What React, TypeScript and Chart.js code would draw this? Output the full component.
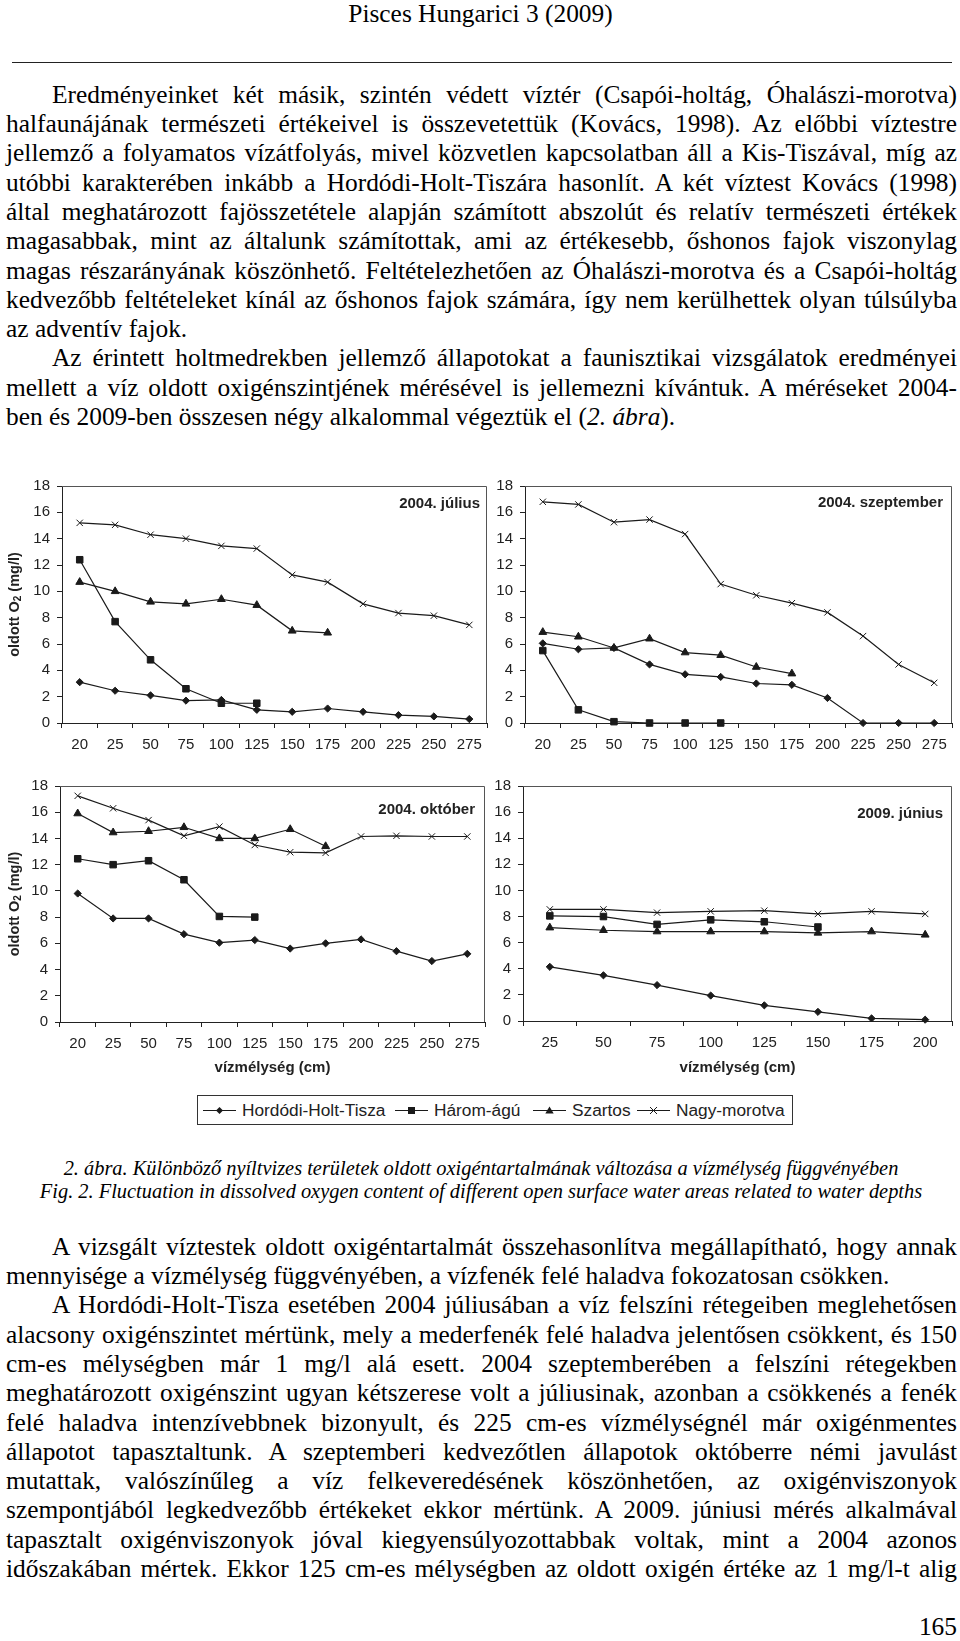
import React, { useEffect, useRef } from 'react';
import { Chart, registerables } from 'chart.js';

Chart.register(...registerables);
Chart.defaults.font.family = '"Liberation Sans", Arial, sans-serif';

// ---------------- DATA ----------------
const SERIES_NAMES = ['Hordódi-Holt-Tisza', 'Három-ágú', 'Szartos', 'Nagy-morotva'];
const POINT_STYLES = ['rectRot', 'rect', 'triangle', 'crossRot'];

const DEPTHS_2004 = ['20', '25', '50', '75', '100', '125', '150', '175', '200', '225', '250', '275'];
const DEPTHS_2009 = ['25', '50', '75', '100', '125', '150', '175', '200'];

const Y_MIN = 0;
const Y_MAX = 18;
const Y_STEP = 2;

const PANEL_TITLES = ['2004. július', '2004. szeptember', '2004. október', '2009. június'];
const Y_TITLE_PARTS = ['oldott O', '2', ' (mg/l)'];
const X_TITLE = 'vízmélység (cm)';

// 2004. július
const JUL_HORDODI = [3.1, 2.45, 2.1, 1.7, 1.75, 1.0, 0.85, 1.1, 0.85, 0.6, 0.5, 0.3];
const JUL_HAROM = [12.4, 7.7, 4.8, 2.6, 1.5, 1.5];
const JUL_SZARTOS = [10.7, 10.0, 9.2, 9.05, 9.4, 8.95, 7.0, 6.85];
const JUL_NAGY = [15.2, 15.05, 14.3, 14.0, 13.45, 13.25, 11.25, 10.7, 9.05, 8.35, 8.15, 7.45];

// 2004. szeptember
const SEP_HORDODI = [6.05, 5.6, 5.7, 4.45, 3.7, 3.5, 3.0, 2.9, 1.9, 0, 0, 0];
const SEP_HAROM = [5.5, 1.0, 0.1, 0, 0, 0];
const SEP_SZARTOS = [6.9, 6.55, 5.7, 6.4, 5.35, 5.15, 4.25, 3.75];
const SEP_NAGY = [16.8, 16.6, 15.25, 15.45, 14.35, 10.55, 9.7, 9.1, 8.4, 6.6, 4.45, 3.05];

// 2004. október
const OKT_HORDODI = [9.8, 7.9, 7.9, 6.7, 6.05, 6.25, 5.6, 6.0, 6.3, 5.4, 4.65, 5.2];
const OKT_HAROM = [12.45, 12.0, 12.3, 10.85, 8.05, 8.0];
const OKT_SZARTOS = [15.9, 14.45, 14.55, 14.85, 14.0, 14.0, 14.7, 13.4];
const OKT_NAGY = [17.25, 16.3, 15.4, 14.2, 14.9, 13.5, 12.95, 12.9, 14.15, 14.2, 14.15, 14.15];

// 2009. június
const JUN_HORDODI = [4.15, 3.5, 2.75, 1.95, 1.2, 0.7, 0.2, 0.1];
const JUN_HAROM = [8.05, 8.0, 7.4, 7.75, 7.6, 7.2];
const JUN_SZARTOS = [7.15, 6.95, 6.85, 6.85, 6.85, 6.75, 6.85, 6.6];
const JUN_NAGY = [8.55, 8.55, 8.3, 8.4, 8.45, 8.2, 8.4, 8.2];

// ---------------- TEXT ----------------
const HEADER = 'Pisces Hungarici 3 (2009)';

const TOP_LINES: { t: React.ReactNode; j: boolean; ind?: boolean }[] = [
  { t: 'Eredményeinket két másik, szintén védett víztér (Csapói-holtág, Óhalászi-morotva)', j: true, ind: true },
  { t: 'halfaunájának természeti értékeivel is összevetettük (Kovács, 1998). Az előbbi víztestre', j: true },
  { t: 'jellemző a folyamatos vízátfolyás, mivel közvetlen kapcsolatban áll a Kis-Tiszával, míg az', j: true },
  { t: 'utóbbi karakterében inkább a Hordódi-Holt-Tiszára hasonlít. A két víztest Kovács (1998)', j: true },
  { t: 'által meghatározott fajösszetétele alapján számított abszolút és relatív természeti értékek', j: true },
  { t: 'magasabbak, mint az általunk számítottak, ami az értékesebb, őshonos fajok viszonylag', j: true },
  { t: 'magas részarányának köszönhető. Feltételezhetően az Óhalászi-morotva és a Csapói-holtág', j: true },
  { t: 'kedvezőbb feltételeket kínál az őshonos fajok számára, így nem kerülhettek olyan túlsúlyba', j: true },
  { t: 'az adventív fajok.', j: false },
  { t: 'Az érintett holtmedrekben jellemző állapotokat a faunisztikai vizsgálatok eredményei', j: true, ind: true },
  { t: 'mellett a víz oldott oxigénszintjének mérésével is jellemezni kívántuk. A méréseket 2004-', j: true },
  { t: <>ben és 2009-ben összesen négy alkalommal végeztük el (<i>2. ábra</i>).</>, j: false },
];

const BOTTOM_LINES: { t: React.ReactNode; j: boolean; ind?: boolean }[] = [
  { t: 'A vizsgált víztestek oldott oxigéntartalmát összehasonlítva megállapítható, hogy annak', j: true, ind: true },
  { t: 'mennyisége a vízmélység függvényében, a vízfenék felé haladva fokozatosan csökken.', j: false },
  { t: 'A Hordódi-Holt-Tisza esetében 2004 júliusában a víz felszíni rétegeiben meglehetősen', j: true, ind: true },
  { t: 'alacsony oxigénszintet mértünk, mely a mederfenék felé haladva jelentősen csökkent, és 150', j: true },
  { t: 'cm-es mélységben már 1 mg/l alá esett. 2004 szeptemberében a felszíni rétegekben', j: true },
  { t: 'meghatározott oxigénszint ugyan kétszerese volt a júliusinak, azonban a csökkenés a fenék', j: true },
  { t: 'felé haladva intenzívebbnek bizonyult, és 225 cm-es vízmélységnél már oxigénmentes', j: true },
  { t: 'állapotot tapasztaltunk. A szeptemberi kedvezőtlen állapotok októberre némi javulást', j: true },
  { t: 'mutattak, valószínűleg a víz felkeveredésének köszönhetően, az oxigénviszonyok', j: true },
  { t: 'szempontjából legkedvezőbb értékeket ekkor mértünk. A 2009. júniusi mérés alkalmával', j: true },
  { t: 'tapasztalt oxigénviszonyok jóval kiegyensúlyozottabbak voltak, mint a 2004 azonos', j: true },
  { t: 'időszakában mértek. Ekkor 125 cm-es mélységben az oldott oxigén értéke az 1 mg/l-t alig', j: true },
];

const CAPTION_HU = '2. ábra. Különböző nyíltvizes területek oldott oxigéntartalmának változása a vízmélység függvényében';
const CAPTION_EN = 'Fig. 2. Fluctuation in dissolved oxygen content of different open surface water areas related to water depths';
const PAGE_NO = '165';

// ---------------- STYLE ----------------
const SERIF = '"Liberation Serif", "Times New Roman", serif';
const SANS = '"Liberation Sans", Arial, sans-serif';
const INK = '#1a1a1a';
const AXIS = '#222';
const FRAME = '#555';
const BODY_SIZE = 25.4;
const BODY_LH = 29.3;

type PanelCfg = {
  left: number; top: number; width: number; height: number;
  labels: string[]; series: number[][]; title: string;
  yTitle: boolean; xTitle: boolean;
  yWidth: number; xHeight: number; padTop: number; padRight: number;
  titleDx: number; titleDy: number;
};

function buildConfig(c: PanelCfg): any {
  const frame = {
    id: 'frame',
    beforeDatasetsDraw(chart: any) {
      const { ctx, chartArea: a } = chart;
      ctx.save();
      ctx.strokeStyle = FRAME;
      ctx.lineWidth = 1;
      ctx.beginPath();
      ctx.moveTo(a.left, Math.round(a.top) + 0.5);
      ctx.lineTo(Math.round(a.right) - 0.5, Math.round(a.top) + 0.5);
      ctx.lineTo(Math.round(a.right) - 0.5, a.bottom);
      ctx.stroke();
      ctx.restore();
    },
  };
  const deco = {
    id: 'deco',
    afterDraw(chart: any) {
      const { ctx, chartArea: a } = chart;
      ctx.save();
      ctx.fillStyle = AXIS;
      ctx.font = `bold 15px ${SANS}`;
      ctx.textAlign = 'right';
      ctx.textBaseline = 'middle';
      ctx.fillText(c.title, a.right - c.titleDx, a.top + c.titleDy);
      if (c.yTitle) {
        const big = `bold 14.5px ${SANS}`;
        const small = `bold 10px ${SANS}`;
        ctx.font = big;
        const w1 = ctx.measureText(Y_TITLE_PARTS[0]).width;
        const w3 = ctx.measureText(Y_TITLE_PARTS[2]).width;
        ctx.font = small;
        const w2 = ctx.measureText(Y_TITLE_PARTS[1]).width;
        ctx.translate(15, (a.top + a.bottom) / 2);
        ctx.rotate(-Math.PI / 2);
        ctx.textAlign = 'left';
        let x = -(w1 + w2 + w3) / 2;
        ctx.font = big;
        ctx.fillText(Y_TITLE_PARTS[0], x, 0);
        x += w1;
        ctx.font = small;
        ctx.fillText(Y_TITLE_PARTS[1], x, 3);
        x += w2;
        ctx.font = big;
        ctx.fillText(Y_TITLE_PARTS[2], x, 0);
      }
      ctx.restore();
    },
  };
  return {
    type: 'line',
    data: {
      labels: c.labels,
      datasets: c.series.map((d, i) => ({
        label: SERIES_NAMES[i],
        data: d,
        borderColor: INK,
        borderWidth: 1.2,
        pointStyle: POINT_STYLES[i],
        pointRadius: i === 0 ? 3.6 : i === 1 ? 4.6 : 4.5,
        pointBackgroundColor: INK,
        pointBorderColor: INK,
        pointBorderWidth: 1,
        fill: false,
        tension: 0,
        clip: false,
      })),
    },
    options: {
      animation: false,
      responsive: false,
      maintainAspectRatio: false,
      layout: { padding: { left: 0, top: c.padTop, right: c.padRight, bottom: 0 } },
      plugins: { legend: { display: false }, tooltip: { enabled: false } },
      scales: {
        x: {
          type: 'category',
          offset: true,
          grid: { display: true, drawOnChartArea: false, drawTicks: true, tickLength: 5, offset: true, color: AXIS },
          border: { display: true, color: AXIS, width: 1 },
          ticks: { color: AXIS, font: { size: 15 }, padding: 8, maxRotation: 0, autoSkip: false },
          title: {
            display: c.xTitle,
            text: X_TITLE,
            color: AXIS,
            font: { size: 15, weight: 'bold' },
            padding: { top: 0, bottom: 13 },
          },
          afterFit: (s: any) => { s.height = c.xHeight; },
        },
        y: {
          min: Y_MIN,
          max: Y_MAX,
          grid: { display: true, drawOnChartArea: false, drawTicks: true, tickLength: 5, color: AXIS },
          border: { display: true, color: AXIS, width: 1 },
          ticks: { stepSize: Y_STEP, color: AXIS, font: { size: 15 }, padding: 7 },
          afterFit: (s: any) => { s.width = c.yWidth; },
        },
      },
    },
    plugins: [frame, deco],
  };
}

function Panel(c: PanelCfg) {
  const ref = useRef<HTMLCanvasElement>(null);
  useEffect(() => {
    const chart = new Chart(ref.current as HTMLCanvasElement, buildConfig(c));
    return () => chart.destroy();
  }, []);
  return (
    <canvas
      ref={ref}
      width={c.width}
      height={c.height}
      style={{ position: 'absolute', left: c.left, top: c.top, width: c.width, height: c.height }}
    />
  );
}

function Para({ top, lines }: { top: number; lines: { t: React.ReactNode; j: boolean; ind?: boolean }[] }) {
  return (
    <div style={{ position: 'absolute', left: 6, top, width: 951, fontFamily: SERIF, fontSize: BODY_SIZE, lineHeight: `${BODY_LH}px`, color: '#000' }}>
      {lines.map((l, i) => (
        <div
          key={i}
          style={{
            height: BODY_LH,
            paddingLeft: l.ind ? 46 : 0,
            textAlign: l.j ? 'justify' : 'left',
            textAlignLast: l.j ? 'justify' : 'left',
            whiteSpace: 'nowrap',
          } as any}
        >
          {l.t}
        </div>
      ))}
    </div>
  );
}

function Marker({ style }: { style: string }) {
  const cx = 16.5, cy = 7.5;
  let m: React.ReactNode;
  if (style === 'rectRot') m = <polygon points={`${cx},${cy - 3.5} ${cx + 3.5},${cy} ${cx},${cy + 3.5} ${cx - 3.5},${cy}`} fill={INK} />;
  else if (style === 'rect') m = <rect x={cx - 3.5} y={cy - 3.5} width={7} height={7} fill={INK} />;
  else if (style === 'triangle') m = <polygon points={`${cx},${cy - 4} ${cx + 4.2},${cy + 3} ${cx - 4.2},${cy + 3}`} fill={INK} />;
  else m = (
    <g stroke={INK} strokeWidth={1}>
      <line x1={cx - 3.5} y1={cy - 3.5} x2={cx + 3.5} y2={cy + 3.5} />
      <line x1={cx - 3.5} y1={cy + 3.5} x2={cx + 3.5} y2={cy - 3.5} />
    </g>
  );
  return (
    <svg width={33} height={15} style={{ display: 'block' }}>
      <line x1={0} y1={cy} x2={33} y2={cy} stroke={INK} strokeWidth={1} />
      {m}
    </svg>
  );
}

const LEGEND_ITEM_LEFT = [5, 197, 335, 439];

function Legend() {
  return (
    <div style={{ position: 'absolute', left: 197, top: 1095, width: 596, height: 30, boxSizing: 'border-box', border: '1px solid #333', background: '#fff' }}>
      {SERIES_NAMES.map((n, i) => (
        <div key={n} style={{ position: 'absolute', left: LEGEND_ITEM_LEFT[i], top: 0, height: 28, display: 'flex', alignItems: 'center', fontFamily: SANS, fontSize: 17.3, color: AXIS, whiteSpace: 'nowrap' }}>
          <Marker style={POINT_STYLES[i]} />
          <span style={{ marginLeft: 6 }}>{n}</span>
        </div>
      ))}
    </div>
  );
}

export default function App() {
  const panels: PanelCfg[] = [
    { left: 0, top: 470, width: 495, height: 290, labels: DEPTHS_2004, series: [JUL_HORDODI, JUL_HAROM, JUL_SZARTOS, JUL_NAGY], title: PANEL_TITLES[0], yTitle: true, xTitle: false, yWidth: 62, xHeight: 37, padTop: 13, padRight: 8, titleDx: 7, titleDy: 18 },
    { left: 495, top: 470, width: 465, height: 290, labels: DEPTHS_2004, series: [SEP_HORDODI, SEP_HAROM, SEP_SZARTOS, SEP_NAGY], title: PANEL_TITLES[1], yTitle: false, xTitle: false, yWidth: 30, xHeight: 37, padTop: 13, padRight: 8, titleDx: 9, titleDy: 17 },
    { left: 0, top: 770, width: 495, height: 320, labels: DEPTHS_2004, series: [OKT_HORDODI, OKT_HAROM, OKT_SZARTOS, OKT_NAGY], title: PANEL_TITLES[2], yTitle: true, xTitle: true, yWidth: 60, xHeight: 68, padTop: 14, padRight: 10, titleDx: 10, titleDy: 24 },
    { left: 495, top: 770, width: 465, height: 320, labels: DEPTHS_2009, series: [JUN_HORDODI, JUN_HAROM, JUN_SZARTOS, JUN_NAGY], title: PANEL_TITLES[3], yTitle: false, xTitle: true, yWidth: 28, xHeight: 69, padTop: 12, padRight: 8, titleDx: 9, titleDy: 28 },
  ];
  return (
    <div style={{ position: 'absolute', left: 0, top: 0, width: 960, height: 1641, background: '#fff', overflow: 'hidden' }}>
      <div style={{ position: 'absolute', left: 0, top: -1.2, width: 961, textAlign: 'center', fontFamily: SERIF, fontSize: BODY_SIZE, lineHeight: `${BODY_LH}px`, color: '#000' }}>{HEADER}</div>
      <div style={{ position: 'absolute', left: 12, top: 62, width: 940, height: 1, background: '#222' }} />
      <Para top={79.8} lines={TOP_LINES} />
      {panels.map((p, i) => <Panel key={i} {...p} />)}
      <Legend />
      <div style={{ position: 'absolute', left: 0, top: 1156.6, width: 962, textAlign: 'center', fontFamily: SERIF, fontStyle: 'italic', fontSize: 20.4, lineHeight: '23px', color: '#000' }}>
        <div>{CAPTION_HU}</div>
        <div>{CAPTION_EN}</div>
      </div>
      <Para top={1231.8} lines={BOTTOM_LINES} />
      <div style={{ position: 'absolute', left: 6, top: 1612, width: 951, textAlign: 'right', fontFamily: SERIF, fontSize: BODY_SIZE, lineHeight: `${BODY_LH}px`, color: '#000' }}>{PAGE_NO}</div>
    </div>
  );
}
